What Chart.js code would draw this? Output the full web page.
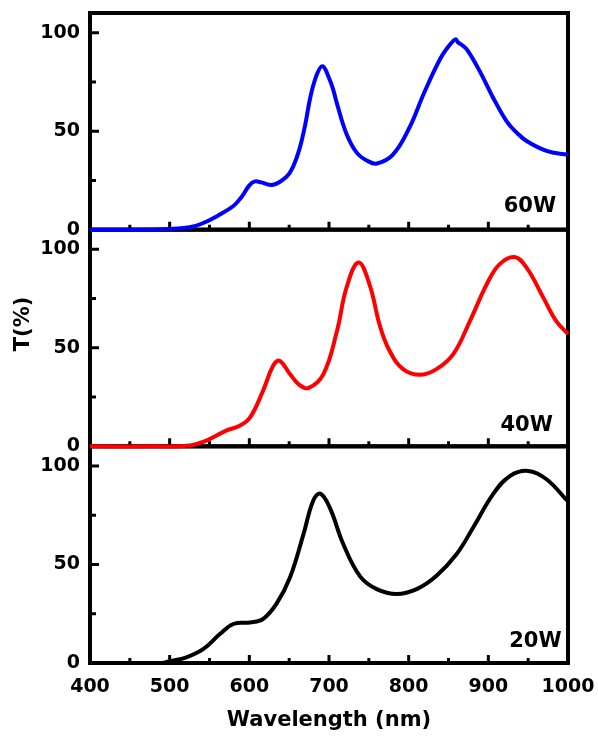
<!DOCTYPE html>
<html>
<head>
<meta charset="utf-8">
<script src="https://cdn.jsdelivr.net/npm/chart.js@4.4.1/dist/chart.umd.min.js"></script>
<style>
  html, body { margin: 0; padding: 0; background: #fff; }
  #chart { display: block; }
</style>
</head>
<body>
<canvas id="chart" width="598" height="736"></canvas>
<script>
// transmittance spectra
const wl60 = [400, 450, 490, 510, 525, 540, 560, 580, 590, 600, 607, 615, 630, 647, 655, 663, 670, 677, 685, 692, 700, 705, 710, 722, 735, 748, 760, 780, 800, 820, 840, 852, 859, 862, 866, 873, 889, 906, 923, 935, 948, 973, 1000];
const t60 = [0, 0, 0.2, 0.6, 1.2, 3, 7, 12, 16.5, 22.5, 24.5, 24, 22.8, 27, 32, 41, 53, 68, 79, 83, 77, 71.5, 64, 48.6, 39, 35, 33.6, 38, 51, 70, 87, 94, 96.6, 95, 94, 91.5, 80.6, 67, 55, 49.5, 45, 40, 38];

const wl40 = [400, 480, 525, 546, 571, 588, 601, 617, 630, 638, 651, 662, 674, 693, 710, 722, 737, 751, 764, 776, 793, 814, 835, 856, 877, 898, 914, 933, 948, 969, 985, 1000];
const t40 = [0, 0, 0.4, 2.9, 8, 10.5, 14.7, 28, 41, 43.4, 36.7, 31.5, 29.6, 36.7, 58.6, 80.6, 93.3, 82, 61, 48.5, 39.2, 36.3, 39.2, 46.8, 63.7, 82.3, 92.4, 96.1, 90.7, 75.5, 63.7, 57];

const wl20 = [400, 490, 500, 521, 542, 563, 580, 601, 617, 634, 651, 668, 680, 689, 701, 718, 739, 760, 785, 810, 835, 860, 881, 906, 927, 950, 973, 1000];
const t20 = [0, 0, 0.9, 2.9, 7, 14.7, 19.8, 20.6, 22.3, 30, 43.4, 65.4, 82.3, 86, 78.9, 60.3, 44, 37.5, 35, 37.5, 44.3, 55.2, 68.8, 85.7, 94.9, 97.5, 93.3, 82];

const xTicks = [400, 500, 600, 700, 800, 900, 1000];
const xMinorTicks = [450, 550, 650, 750, 850, 950];
const yTicks = [0, 50, 100];
const yMinorTicks = [25, 75];

const panelNames = ["60W", "40W", "20W"];
const panelColors = ["#0000ff", "#ff0000", "#000000"];
const panelAxes = ["y60", "y40", "y20"];
// where each panel's name sits, in data units (right edge, baseline)
const panelNameAt = [[985, 9], [981, 8], [992, 8]];

const FONT = "'DejaVu Sans', sans-serif";

function toPoints(xs, ys) {
  return xs.map((x, i) => ({ x, y: ys[i] }));
}

function yAxis() {
  return {
    type: "linear",
    position: "left",
    stack: "panels",
    min: 0,
    max: 110,
    grid: { display: false, drawTicks: false },
    border: { display: false },
    afterBuildTicks: (scale) => {
      scale.ticks = yTicks.map((v) => ({ value: v }));
    },
    afterFit: (scale) => {
      scale.width = 90;
      scale.paddingTop = 0;
      scale.paddingBottom = 0;
    },
    ticks: {
      font: { family: FONT, size: 19, weight: "bold" },
      color: "#000",
      padding: 10,
    },
  };
}

const framePlugin = {
  id: "frame",
  beforeDatasetsDraw(chart) {
    const { ctx, scales } = chart;
    const x = scales.x;
    ctx.save();
    ctx.strokeStyle = "#000";
    panelAxes.forEach((id) => {
      const y = scales[id];
      ctx.lineWidth = 3;
      ctx.beginPath();
      xTicks.forEach((v) => {
        const px = x.getPixelForValue(v);
        ctx.moveTo(px, y.bottom);
        ctx.lineTo(px, y.bottom - 8);
      });
      xMinorTicks.forEach((v) => {
        const px = x.getPixelForValue(v);
        ctx.moveTo(px, y.bottom);
        ctx.lineTo(px, y.bottom - 5);
      });
      yTicks.forEach((v) => {
        const py = y.getPixelForValue(v);
        ctx.moveTo(x.left, py);
        ctx.lineTo(x.left + 9, py);
      });
      yMinorTicks.forEach((v) => {
        const py = y.getPixelForValue(v);
        ctx.moveTo(x.left, py);
        ctx.lineTo(x.left + 6, py);
      });
      ctx.stroke();
      ctx.lineWidth = 4;
      ctx.strokeRect(x.left, y.top, x.right - x.left, y.bottom - y.top);
    });
    ctx.restore();
  },
  afterDraw(chart) {
    const { ctx, scales } = chart;
    const x = scales.x;
    ctx.save();
    ctx.fillStyle = "#000";
    ctx.font = `bold 21px ${FONT}`;
    ctx.textAlign = "right";
    ctx.textBaseline = "alphabetic";
    panelAxes.forEach((id, i) => {
      const y = scales[id];
      const [lx, ly] = panelNameAt[i];
      ctx.fillText(panelNames[i], x.getPixelForValue(lx), y.getPixelForValue(ly));
    });
    // shared y title
    ctx.translate(24, 324);
    ctx.rotate(-Math.PI / 2);
    ctx.textAlign = "center";
    ctx.textBaseline = "middle";
    ctx.fillText("T(%)", 0, 0);
    ctx.restore();
  },
};

const chart = new Chart(document.getElementById("chart"), {
  type: "line",
  data: {
    datasets: panelAxes.map((id, i) => ({
      label: panelNames[i],
      data: toPoints([wl60, wl40, wl20][i], [t60, t40, t20][i]),
      yAxisID: id,
      borderColor: panelColors[i],
      borderWidth: 4,
      pointRadius: 0,
      tension: 0.4,
      clip: false,
    })),
  },
  options: {
    responsive: false,
    animation: false,
    layout: { padding: { left: 0, top: 13, right: 30, bottom: 0 } },
    plugins: {
      legend: { display: false },
      tooltip: { enabled: false },
    },
    scales: {
      x: {
        type: "linear",
        min: 400,
        max: 1000,
        grid: { display: false, drawTicks: false },
        border: { display: false },
        afterBuildTicks: (scale) => {
          scale.ticks = xTicks.map((v) => ({ value: v }));
        },
        afterFit: (scale) => {
          scale.height = 73;
          scale.paddingLeft = 0;
          scale.paddingRight = 0;
        },
        ticks: {
          font: { family: FONT, size: 19, weight: "bold" },
          color: "#000",
          padding: 13,
          maxRotation: 0,
          autoSkip: false,
          callback: (v) => String(v),
        },
        title: {
          display: true,
          text: "Wavelength (nm)",
          font: { family: FONT, size: 21, weight: "bold" },
          color: "#000",
          padding: { top: 0, bottom: 3 },
        },
      },
      // stacked axes are placed top-down in reverse order
      y20: yAxis(),
      y40: yAxis(),
      y60: yAxis(),
    },
  },
  plugins: [framePlugin],
});
</script>
</body>
</html>
